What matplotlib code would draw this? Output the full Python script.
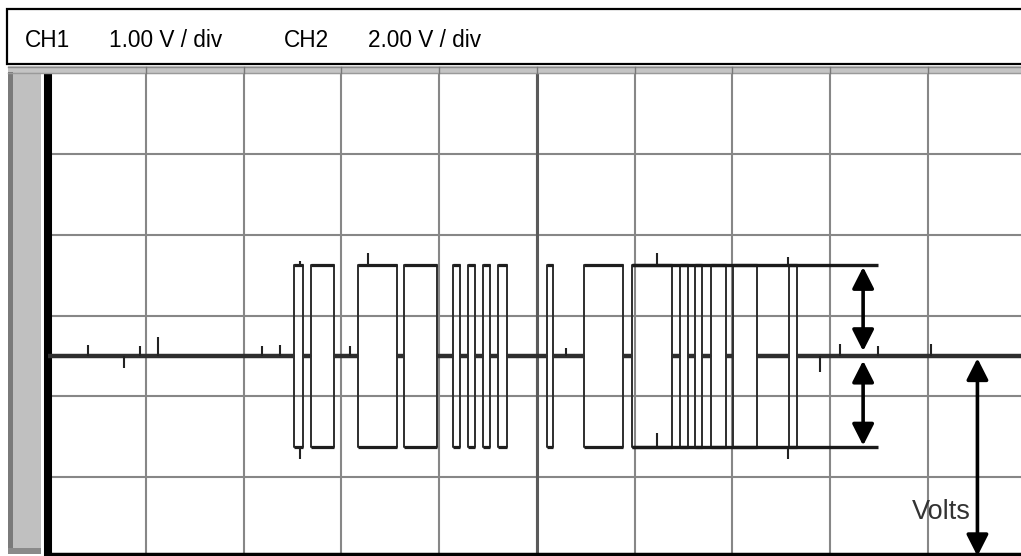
import numpy as np
import matplotlib
matplotlib.use("Agg")
import matplotlib.pyplot as plt
from matplotlib.patches import Rectangle
from matplotlib.lines import Line2D

plt.rcParams['font.family'] = ['Liberation Sans', 'DejaVu Sans']

# header labels
ch_labels = ["CH1", "1.00 V / div", "CH2", "2.00 V / div"]

# trace levels (divisions)
idle_level = 2.5
high_level = 3.62
low_level = 1.37

# bursts: start / end of each bit box (time in divisions)
burst_start = [2.515, 2.689, 3.170, 3.641, 4.142, 4.295, 4.449, 4.602,
               5.104, 5.482, 5.973, 6.466, 6.619, 6.783, 7.008, 7.582]
burst_end = [2.607, 2.924, 3.569, 3.979, 4.213, 4.367, 4.520, 4.694,
             5.165, 5.881, 6.384, 6.548, 6.690, 6.936, 7.254, 7.663]

# glitches on the idle line
spike_t = [0.41, 0.77, 0.94, 1.12, 2.19, 2.37, 3.09, 5.30, 7.90, 8.10, 8.49, 9.03]
spike_dv = [0.13, -0.15, 0.12, 0.23, 0.12, 0.13, 0.12, 0.10, -0.2, 0.15, 0.12, 0.15]

# glitches on the high / low levels
high_spike_t = [2.58, 3.27, 6.23, 7.57]
high_spike_dv = [0.05, 0.15, 0.15, 0.10]
low_spike_t = [2.58, 6.23, 7.57]
low_spike_dv = [-0.15, 0.18, -0.15]

# amplitude reference lines and arrows
ref_start = 5.973
ref_end = 8.49
amp_arrow_t = 8.34
volts_arrow_t = 9.51

fig = plt.figure(figsize=(10.21, 5.56), dpi=100)
W, H = 1021.0, 556.0

# header box
fig.patches.append(Rectangle((7 / W, 1 - 64 / H), 1030 / W, 55 / H, transform=fig.transFigure,
                             facecolor='white', edgecolor='black', lw=1.6))
for lab, x in zip(ch_labels, [25, 109, 284, 368]):
    fig.text(x / W, 1 - 47 / H, lab, fontsize=16.3, va='baseline', ha='left', color='black')

# top frame band
fig.patches.append(Rectangle((8 / W, 1 - 73 / H), 1020 / W, 7 / H, transform=fig.transFigure,
                             facecolor='#c4c4c4', edgecolor='none'))
fig.lines.append(Line2D([8 / W, 1], [1 - 66.5 / H, 1 - 66.5 / H], transform=fig.transFigure,
                        color='#8a8a8a', lw=1.0))
fig.lines.append(Line2D([8 / W, 1], [1 - 72.5 / H, 1 - 72.5 / H], transform=fig.transFigure,
                        color='#9a9a9a', lw=1.0))
for k in range(1, 10):
    xx = (48.3 + k * 97.7) / W
    fig.lines.append(Line2D([xx, xx], [1 - 67 / H, 1 - 73 / H], transform=fig.transFigure,
                            color='#777777', lw=1.0))

# left gray bar
fig.patches.append(Rectangle((8 / W, 1 - 554 / H), 33 / W, 482 / H, transform=fig.transFigure,
                             facecolor='#c0c0c0', edgecolor='none'))
fig.patches.append(Rectangle((8 / W, 1 - 554 / H), 5 / W, 482 / H, transform=fig.transFigure,
                             facecolor='#7a7a7a', edgecolor='none'))
fig.patches.append(Rectangle((8 / W, 1 - 554 / H), 33 / W, 6 / H, transform=fig.transFigure,
                             facecolor='#8a8a8a', edgecolor='none'))

# screen axes, 10 x 6 divisions
ax = fig.add_axes([48.3 / W, 1 - 557.75 / H, 977 / W, 484.5 / H])
ax.set_xlim(0, 10)
ax.set_ylim(0, 6)
ax.set_xticks(np.arange(0, 11))
ax.set_yticks(np.arange(0, 7))
ax.grid(True, color='#878787', lw=1.5)
ax.set_axisbelow(True)
ax.tick_params(length=0, labelbottom=False, labelleft=False)
for s in ['top', 'right', 'bottom']:
    ax.spines[s].set_visible(False)
ax.spines['left'].set_linewidth(5.8)
ax.spines['left'].set_color('black')
ax.axvline(5, color='#5a5a5a', lw=2.2, zorder=1)
ax.axhline(0.045, color='black', lw=2.5, zorder=1)

# build the two differential traces
xa, ya, yb = [0.0], [idle_level], [idle_level]
for a, b in zip(burst_start, burst_end):
    xa += [a, a, b, b]
    ya += [idle_level, high_level, high_level, idle_level]
    yb += [idle_level, low_level, low_level, idle_level]
xa.append(10.0)
ya.append(idle_level)
yb.append(idle_level)
ax.plot(xa, ya, color='#2e2e2e', lw=1.4, zorder=3)
ax.plot(xa, yb, color='#2e2e2e', lw=1.4, zorder=3)

# heavier high / low levels of each box
ax.hlines([high_level] * len(burst_start), burst_start, burst_end, color='#1e1e1e', lw=2.3, zorder=3)
ax.hlines([low_level] * len(burst_start), burst_start, burst_end, color='#1e1e1e', lw=2.3, zorder=3)

# thicker noisy idle band
idle_x0 = [0.0] + burst_end
idle_x1 = burst_start + [10.0]
for a, b in zip(idle_x0, idle_x1):
    ax.plot([a, b], [idle_level, idle_level], color='#2e2e2e', lw=3.2, zorder=3,
            solid_capstyle='butt')

ax.vlines(spike_t, idle_level, np.array(spike_dv) + idle_level, color='#222222', lw=1.5, zorder=3)
ax.vlines(high_spike_t, high_level, np.array(high_spike_dv) + high_level, color='#222222', lw=1.5, zorder=3)
ax.vlines(low_spike_t, low_level, np.array(low_spike_dv) + low_level, color='#222222', lw=1.5, zorder=3)

# amplitude reference lines
ax.hlines([high_level, low_level], ref_start, ref_end, color='#1a1a1a', lw=2.4, zorder=4)

arrow_kw = dict(arrowstyle='<|-|>,head_length=0.65,head_width=0.33', color='black', lw=2.6,
                mutation_scale=20, shrinkA=0, shrinkB=0)
ax.annotate('', xy=(amp_arrow_t, high_level - 0.02), xytext=(amp_arrow_t, idle_level + 0.06),
            arrowprops=arrow_kw, zorder=5)
ax.annotate('', xy=(amp_arrow_t, low_level + 0.02), xytext=(amp_arrow_t, idle_level - 0.06),
            arrowprops=arrow_kw, zorder=5)
ax.annotate('', xy=(volts_arrow_t, 0.02), xytext=(volts_arrow_t, idle_level - 0.03),
            arrowprops=arrow_kw, zorder=5, annotation_clip=False)
ax.text(volts_arrow_t - 0.07, 0.48, "Volts", fontsize=19.5, ha='right', va='baseline', color='#333333')

fig.savefig("out.png", dpi=100)
